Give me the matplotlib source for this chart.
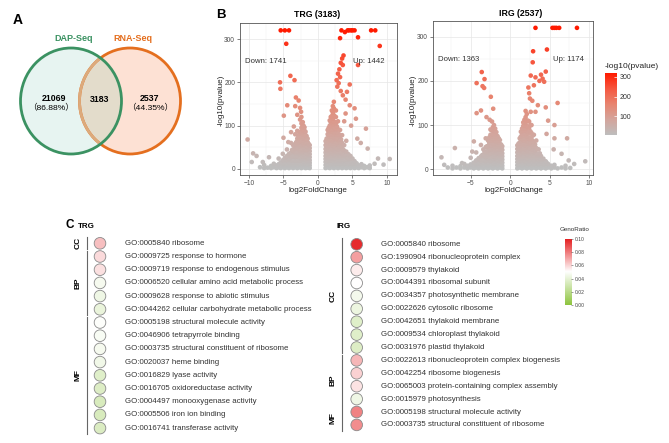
import numpy as np
import matplotlib
matplotlib.use('Agg')
import matplotlib.pyplot as plt
from matplotlib.colors import LinearSegmentedColormap
from matplotlib.patches import Ellipse
from matplotlib.ticker import MultipleLocator

plt.rcParams['font.family'] = ['Liberation Sans', 'Noto Sans CJK SC', 'DejaVu Sans']

# ---------------- data ----------------
venn_sets = ['DAP-Seq', 'RNA-Seq']
venn_only_dap = '21069'
venn_only_dap_pct = '（86.88%）'
venn_shared = '3183'
venn_only_rna = '2537'
venn_only_rna_pct = '（44.35%）'

trg_title = 'TRG (3183)'
irg_title = 'IRG (2537)'
trg_counts = ('Down: 1741', 'Up: 1442')
irg_counts = ('Down: 1363', 'Up: 1174')

# isolated points (log2FoldChange, -log10 pvalue)
trg_down_pts = [(-5.4, 320), (-4.8, 320), (-4.2, 320), (-4.6, 289), (-4.0, 215), (-3.4, 205),
                (-5.5, 200), (-5.45, 185), (-3.2, 165), (-2.8, 158), (-4.45, 147), (-3.3, 145),
                (-2.6, 141), (-2.45, 132), (-3.0, 125), (-4.95, 123), (-2.4, 120), (-2.6, 114),
                (-10.2, 68), (-5.0, 72), (-9.4, 36), (-8.9, 30), (-7.1, 27), (-8.0, 16), (-9.6, 16),
                (-3.5, 98), (-2.2, 108), (-3.9, 85), (-4.3, 62)]
trg_up_pts = [(3.4, 320), (3.9, 316), (4.3, 320), (4.5, 320), (4.8, 320), (5.0, 320), (5.3, 320),
              (7.7, 320), (8.3, 320), (3.2, 302), (5.8, 304), (8.95, 284), (3.7, 262), (3.5, 255),
              (3.3, 245), (3.6, 240), (3.1, 230), (2.9, 220), (3.2, 212), (2.7, 205), (3.0, 198),
              (2.8, 190), (3.3, 180), (5.8, 240), (4.6, 195), (4.2, 178), (4.0, 160), (3.6, 170),
              (4.6, 147), (5.3, 140), (5.5, 116), (4.0, 128), (3.8, 110), (4.8, 100), (6.95, 93),
              (7.2, 47), (8.7, 24), (10.4, 23), (6.2, 60), (5.7, 70), (9.5, 10), (8.2, 12)]
irg_down_pts = [(-3.6, 220), (-4.25, 195), (-3.25, 204), (-3.5, 188), (-3.3, 184), (-2.45, 164),
                (-4.25, 127), (-3.7, 133), (-2.15, 137), (-7.0, 48), (-8.7, 27), (-8.35, 10),
                (-6.1, 14), (-4.6, 63), (-5.0, 26), (-3.0, 118), (-2.6, 112), (-2.3, 108), (-4.8, 40)]
irg_up_pts = [(3.2, 320), (5.35, 320), (5.6, 320), (5.85, 320), (6.2, 320), (8.45, 320),
              (2.9, 267), (4.65, 271), (2.85, 242), (2.6, 212), (4.5, 221), (3.2, 208), (3.9, 214),
              (4.1, 205), (4.3, 198), (3.7, 200), (2.3, 185), (3.0, 190), (2.4, 172), (2.5, 160),
              (2.8, 155), (3.5, 145), (4.5, 140), (6.0, 150), (3.2, 130), (2.6, 130), (5.6, 100),
              (4.8, 110), (4.6, 80), (5.6, 70), (7.2, 70), (5.5, 45), (6.5, 35), (7.4, 20),
              (9.5, 18), (8.1, 12)]

# dense clouds read column by column: log2FoldChange -> -log10 pvalue values
trg_down_cloud = {
    -1.2: [2, 8, 14, 20, 27, 34, 41, 48, 55],
    -1.35: [5, 12, 19, 26, 33, 41, 49, 58],
    -1.5: [3, 10, 17, 24, 31, 38, 46, 54, 62, 70],
    -1.65: [6, 13, 20, 28, 36, 44, 52, 60, 68, 76],
    -1.8: [2, 9, 16, 23, 30, 38, 46, 54, 62, 70, 78, 86],
    -1.95: [6, 14, 22, 30, 38, 46, 54, 62, 70, 79, 88, 96],
    -2.1: [4, 11, 18, 26, 34, 42, 50, 58, 66, 74, 82, 92, 100],
    -2.25: [6, 14, 22, 30, 38, 46, 54, 62, 71, 80, 90, 99],
    -2.4: [2, 9, 16, 24, 32, 40, 48, 57, 66, 75, 84, 95, 105],
    -2.55: [6, 13, 21, 29, 38, 47, 56, 65, 75, 86],
    -2.7: [4, 11, 19, 27, 35, 44, 53, 62, 72, 82],
    -2.85: [6, 13, 21, 29, 38, 47, 56, 66, 76],
    -3.0: [2, 8, 15, 23, 31, 40, 50, 60, 70, 88],
    -3.15: [6, 13, 21, 30, 40, 50, 62],
    -3.3: [4, 11, 19, 28, 37, 47, 58, 80],
    -3.45: [6, 13, 21, 30, 40, 52],
    -3.6: [2, 8, 15, 23, 32, 42, 55],
    -3.75: [6, 13, 21, 30, 44],
    -3.9: [4, 11, 19, 28, 38, 60],
    -4.05: [6, 13, 22, 32],
    -4.2: [2, 8, 15, 24, 35],
    -4.35: [6, 13, 22],
    -4.5: [4, 11, 20, 30, 45],
    -4.65: [6, 13, 22],
    -4.8: [2, 8, 16, 26],
    -4.95: [6, 14],
    -5.1: [4, 11, 20, 35],
    -5.25: [6, 13],
    -5.4: [2, 8, 15],
    -5.55: [6],
    -5.7: [4, 11, 24],
    -5.85: [6],
    -6.0: [2, 8],
    -6.4: [4, 12],
    -6.8: [2, 7],
    -7.3: [3],
    -7.8: [2, 9],
    -8.4: [4],
}
trg_up_cloud = {
    1.1: [2, 9, 16, 23, 30, 38, 46, 55, 64],
    1.25: [5, 12, 19, 27, 35, 43, 52, 61, 70],
    1.4: [4, 11, 18, 26, 34, 42, 51, 60, 70, 80, 90],
    1.55: [6, 13, 21, 29, 37, 46, 55, 65, 75, 85, 95],
    1.7: [2, 9, 16, 24, 32, 41, 50, 59, 69, 79, 90, 100, 112],
    1.85: [6, 13, 21, 29, 38, 47, 56, 66, 76, 87, 98, 108, 120],
    2.0: [4, 11, 19, 27, 36, 45, 55, 65, 75, 86, 97, 109, 122, 135],
    2.15: [6, 14, 22, 31, 40, 49, 59, 69, 80, 91, 103, 116, 130, 145],
    2.3: [2, 9, 17, 25, 34, 43, 53, 63, 74, 85, 97, 110, 124, 140, 155],
    2.45: [6, 14, 22, 31, 40, 50, 60, 71, 82, 94, 107, 121],
    2.6: [4, 12, 20, 29, 38, 48, 58, 69, 80, 92, 105, 120, 135],
    2.75: [6, 14, 22, 31, 40, 50, 61, 72, 84, 98],
    2.9: [2, 9, 17, 26, 35, 45, 56, 67, 79, 92, 110],
    3.05: [6, 14, 22, 31, 41, 52, 64, 80],
    3.2: [4, 12, 20, 29, 39, 50, 62, 75, 90],
    3.35: [6, 14, 22, 31, 41, 53, 68],
    3.5: [2, 9, 17, 26, 36, 47, 60, 78],
    3.65: [6, 14, 23, 33, 45],
    3.8: [4, 12, 21, 31, 42, 55],
    3.95: [6, 14, 23, 34],
    4.1: [2, 9, 18, 28, 40, 65],
    4.25: [6, 15, 26],
    4.4: [4, 12, 22, 34],
    4.55: [6, 14, 24],
    4.7: [2, 9, 18, 30],
    4.85: [6, 14],
    5.0: [4, 12, 24],
    5.15: [6, 14],
    5.3: [2, 9, 18],
    5.45: [6],
    5.6: [4, 13],
    5.75: [6],
    5.9: [2, 8],
    6.1: [6],
    6.3: [4, 11],
    6.7: [2, 7],
    7.1: [4],
    7.5: [2, 8],
}
irg_down_cloud = {
    -1.0: [2, 8, 15, 22, 29, 36, 44, 52],
    -1.15: [5, 12, 19, 26, 33, 40, 48, 56],
    -1.3: [4, 11, 18, 25, 33, 41, 49, 57, 66],
    -1.45: [6, 13, 21, 29, 37, 45, 53, 61, 70],
    -1.6: [2, 9, 16, 23, 31, 39, 47, 56, 65, 75],
    -1.75: [6, 13, 21, 29, 37, 45, 54, 63, 72, 84],
    -1.9: [4, 11, 18, 26, 34, 42, 51, 60, 70, 80, 92],
    -2.05: [6, 14, 22, 30, 38, 47, 56, 65, 75, 86, 100],
    -2.2: [2, 9, 16, 24, 32, 41, 50, 59, 69, 80, 95],
    -2.35: [6, 13, 21, 29, 37, 46, 55, 65, 75, 88],
    -2.5: [4, 11, 19, 27, 36, 45, 55, 66, 78, 90],
    -2.65: [6, 13, 21, 29, 38, 48, 60, 72],
    -2.8: [2, 9, 16, 24, 33, 42, 53, 65],
    -2.95: [6, 13, 21, 30, 40, 52],
    -3.1: [4, 11, 19, 28, 38, 50, 70],
    -3.25: [6, 13, 21, 30, 40],
    -3.4: [2, 8, 15, 23, 33, 45],
    -3.55: [6, 13, 22, 32],
    -3.7: [4, 11, 19, 29, 55],
    -3.85: [6, 14, 23],
    -4.0: [2, 8, 16, 25],
    -4.15: [6, 14],
    -4.3: [4, 11, 20, 38],
    -4.45: [6, 14],
    -4.6: [2, 8, 15],
    -4.8: [6],
    -5.0: [4, 11],
    -5.2: [6],
    -5.4: [2, 8],
    -5.6: [6],
    -5.8: [4, 12],
    -6.3: [2, 7],
    -6.8: [4],
    -7.3: [2, 8],
    -7.9: [4],
}
irg_up_cloud = {
    0.9: [2, 9, 16, 23, 30, 38, 46, 54],
    1.05: [5, 12, 19, 26, 34, 42, 50, 58],
    1.2: [4, 11, 18, 26, 34, 42, 51, 60, 70],
    1.35: [6, 13, 21, 29, 37, 46, 55, 64, 74, 85],
    1.5: [2, 9, 16, 24, 32, 41, 50, 59, 69, 80, 92],
    1.65: [6, 13, 21, 29, 38, 47, 56, 66, 76, 87, 98, 106],
    1.8: [4, 11, 19, 27, 36, 45, 55, 65, 76, 88, 100, 112],
    1.95: [6, 14, 22, 31, 40, 49, 59, 69, 80, 92, 105, 118, 132],
    2.1: [2, 9, 17, 25, 34, 43, 53, 63, 74, 86, 98, 110, 125],
    2.25: [6, 14, 22, 31, 40, 50, 60, 71, 82, 95, 110],
    2.4: [4, 12, 20, 29, 38, 48, 58, 69, 81, 94, 108],
    2.55: [6, 14, 22, 31, 40, 50, 61, 72, 86, 100],
    2.7: [2, 9, 17, 26, 35, 45, 56, 68, 82, 100],
    2.85: [6, 14, 22, 31, 41, 52, 64, 76],
    3.0: [4, 12, 20, 29, 39, 50, 62, 78],
    3.15: [6, 14, 22, 32, 43, 56],
    3.3: [2, 9, 17, 26, 36, 48, 65],
    3.45: [6, 14, 23, 33, 45],
    3.6: [4, 12, 21, 31, 45],
    3.75: [6, 14, 24, 36],
    3.9: [2, 9, 18, 30],
    4.05: [6, 14, 22],
    4.2: [4, 12, 24],
    4.35: [6, 14],
    4.5: [2, 9, 18],
    4.65: [6, 14],
    4.8: [4, 12],
    5.0: [6],
    5.2: [2, 8],
    5.4: [6],
    5.6: [4, 10],
    6.0: [2],
    6.5: [4],
    7.0: [2, 8],
    7.6: [3],
}

# GO enrichment
trg_terms = ['GO:0005840 ribosome', 'GO:0009725 response to hormone',
             'GO:0009719 response to endogenous stimulus',
             'GO:0006520 cellular amino acid metabolic process',
             'GO:0009628 response to abiotic stimulus',
             'GO:0044262 cellular carbohydrate metabolic process',
             'GO:0005198 structural molecule activity', 'GO:0046906 tetrapyrrole binding',
             'GO:0003735 structural constituent of ribosome', 'GO:0020037 heme binding',
             'GO:0016829 lyase activity', 'GO:0016705 oxidoreductase activity',
             'GO:0004497 monooxygenase activity', 'GO:0005506 iron ion binding',
             'GO:0016741 transferase activity']
trg_ratio = [0.064, 0.058, 0.057, 0.046, 0.043, 0.041, 0.049, 0.047, 0.046, 0.044,
             0.036, 0.035, 0.033, 0.033, 0.034]
trg_groups = [('CC', 0, 0), ('BP', 1, 5), ('MF', 6, 14)]

irg_terms = ['GO:0005840 ribosome', 'GO:1990904 ribonucleoprotein complex',
             'GO:0009579 thylakoid', 'GO:0044391 ribosomal subunit',
             'GO:0034357 photosynthetic membrane', 'GO:0022626 cytosolic ribosome',
             'GO:0042651 thylakoid membrane', 'GO:0009534 chloroplast thylakoid',
             'GO:0031976 plastid thylakoid', 'GO:0022613 ribonucleoprotein complex biogenesis',
             'GO:0042254 ribosome biogenesis', 'GO:0065003 protein-containing complex assembly',
             'GO:0015979 photosynthesis', 'GO:0005198 structural molecule activity',
             'GO:0003735 structural constituent of ribosome']
irg_ratio = [0.096, 0.071, 0.054, 0.050, 0.045, 0.042, 0.036, 0.036, 0.035,
             0.066, 0.060, 0.056, 0.043, 0.077, 0.075]
irg_groups = [('CC', 0, 8), ('BP', 9, 12), ('MF', 13, 14)]
genoratio_ticks = [0.00, 0.02, 0.04, 0.06, 0.08, 0.10]

# ---------------- figure ----------------
W, H = 669, 443
fig = plt.figure(figsize=(W / 100, H / 100), dpi=100)


def rect(x0, y0, x1, y1):
    return [x0 / W, 1 - y1 / H, (x1 - x0) / W, (y1 - y0) / H]


ax0 = fig.add_axes([0, 0, 1, 1])
ax0.set_xlim(0, W)
ax0.set_ylim(H, 0)
ax0.axis('off')

# ---------- Panel A : Venn ----------
gc, oc = (71, 101), (130, 101)
ew, eh = 101, 106
green_edge, orange_edge = '#3b9262', '#e46f1f'
gfill = Ellipse(gc, ew, eh, fc='#e7f4f1', ec='none')
ofill = Ellipse(oc, ew, eh, fc='#fde1d4', ec='none')
ax0.add_patch(gfill)
ax0.add_patch(ofill)
inter = Ellipse(oc, ew, eh, fc='#e3dccb', ec='none')
ax0.add_patch(inter)
inter.set_clip_path(gfill)
oe = Ellipse(oc, ew, eh, fill=False, ec=orange_edge, lw=2.0)
ax0.add_patch(oe)
oe2 = Ellipse(oc, ew, eh, fill=False, ec='#dcaa7c', lw=2.0)
ax0.add_patch(oe2)
oe2.set_clip_path(gfill)
ax0.add_patch(Ellipse(gc, ew, eh, fill=False, ec=green_edge, lw=2.0))

ax0.text(18, 20, 'A', fontsize=10, fontweight='bold', ha='center', va='center')
ax0.text(74, 38, venn_sets[0], color=green_edge, fontsize=6.5, fontweight='bold', ha='center', va='center')
ax0.text(133, 38, venn_sets[1], color=orange_edge, fontsize=6.5, fontweight='bold', ha='center', va='center')
ax0.text(54, 98, venn_only_dap, fontsize=6.3, fontweight='bold', ha='center', va='center')
ax0.text(51, 108.5, venn_only_dap_pct, fontsize=6.1, ha='center', va='center')
ax0.text(100, 99, venn_shared, fontsize=6.3, fontweight='bold', ha='center', va='center')
ax0.text(150, 98, venn_only_rna, fontsize=6.3, fontweight='bold', ha='center', va='center')
ax0.text(150, 108.5, venn_only_rna_pct, fontsize=6.1, ha='center', va='center')

# ---------- Panel B : volcano ----------
vcmap = LinearSegmentedColormap.from_list(
    'greyred', ['#bebebe', '#d4a59c', '#e8846f', '#f6573f', '#ff1a00'])
VMIN, VMAX = 5, 320


def collect(pts, cloud):
    fc = [p[0] for p in pts]
    pv = [p[1] for p in pts]
    for k, vals in cloud.items():
        for v in vals:
            fc.append(k)
            pv.append(v)
    return np.array(fc, float), np.array(pv, float)


def volcano(ax, parts, xlim, ylim, xticks, down_txt, up_txt):
    fcs, pvs = [], []
    for pts, cloud in parts:
        f, p = collect(pts, cloud)
        fcs.append(f)
        pvs.append(p)
    f = np.concatenate(fcs)
    p = np.concatenate(pvs)
    o = np.argsort(p, kind='stable')
    ax.scatter(f[o], p[o], c=p[o], cmap=vcmap, vmin=VMIN, vmax=VMAX, s=11, linewidths=0, zorder=3)
    ax.set_xlim(*xlim)
    ax.set_ylim(*ylim)
    ax.set_xticks(xticks)
    ax.set_yticks([0, 100, 200, 300])
    ax.xaxis.set_minor_locator(MultipleLocator(2.5))
    ax.yaxis.set_minor_locator(MultipleLocator(50))
    ax.grid(which='major', color='#e6e6e6', lw=0.5)
    ax.grid(which='minor', color='#f2f2f2', lw=0.35)
    ax.set_axisbelow(True)
    ax.tick_params(which='major', labelsize=4.8, labelcolor='#4d4d4d', color='#4d4d4d',
                   length=2, width=0.5, pad=1.5)
    ax.tick_params(which='minor', length=0)
    for s in ax.spines.values():
        s.set_color('#555555')
        s.set_linewidth(0.6)
    ax.text(down_txt[0], down_txt[1], down_txt[2], fontsize=5.6, color='#333333',
            ha='left', va='center', zorder=4)
    ax.text(up_txt[0], up_txt[1], up_txt[2], fontsize=5.6, color='#333333',
            ha='left', va='center', zorder=4)


ax_t = fig.add_axes(rect(240, 23, 397, 175))
volcano(ax_t, [(trg_down_pts, trg_down_cloud), (trg_up_pts, trg_up_cloud)],
        (-11.3, 11.45), (-14, 337), [-10, -5, 0, 5, 10],
        (-10.6, 249, trg_counts[0]), (5.1, 249, trg_counts[1]))
ax_i = fig.add_axes(rect(433, 21, 593, 175))
volcano(ax_i, [(irg_down_pts, irg_down_cloud), (irg_up_pts, irg_up_cloud)],
        (-9.77, 10.48), (-13, 335.5), [-5, 0, 5, 10],
        (-9.2, 249, irg_counts[0]), (5.45, 249, irg_counts[1]))

ax0.text(221, 15, 'B', fontsize=9.5, fontweight='bold', ha='center', va='center')
ax0.text(317, 14, trg_title, fontsize=6.3, fontweight='bold', ha='center', va='center')
ax0.text(521, 13, irg_title, fontsize=6.3, fontweight='bold', ha='center', va='center')
for xc in (318, 514):
    ax0.text(xc, 190.5, 'log2FoldChange', fontsize=5.8, color='#222222', ha='center', va='center')
for xc in (221, 413):
    ax0.text(xc, 100, '-log10(pvalue)', fontsize=5.8, color='#222222', ha='center',
             va='center', rotation=90)

# colorbar for p values
cax = fig.add_axes(rect(605, 73, 617, 135))
grad = np.linspace(VMIN, VMAX, 256).reshape(-1, 1)
cax.imshow(grad, aspect='auto', cmap=vcmap, origin='lower', extent=[0, 1, VMIN, VMAX],
           vmin=VMIN, vmax=VMAX)
cax.set_ylim(VMIN, VMAX)
cax.set_xticks([])
cax.yaxis.tick_right()
cax.set_yticks([100, 200, 300])
cax.tick_params(axis='y', direction='in', length=2, color='white', width=0.5,
                labelsize=5, labelcolor='#333333', pad=2)
for s in cax.spines.values():
    s.set_visible(False)
ax0.text(605, 66, '-log10(pvalue)', fontsize=6, color='#222222', ha='left', va='center')

# ---------- Panel C : GO bubbles ----------
gocmap = LinearSegmentedColormap.from_list('go', ['#8dc43e', '#ffffff', '#e41a1c'])
ax0.text(70, 224.5, 'C', fontsize=8.5, fontweight='bold', ha='center', va='center')
ax0.text(86, 226, 'TRG', fontsize=5.8, fontweight='bold', ha='center', va='center')
ax0.text(344, 226.5, 'IRG', fontsize=5.8, fontweight='bold', ha='center', va='center')


def go_panel(terms, ratios, groups, cx, tx, y0, dy, bx, lx):
    ys = [y0 + i * dy for i in range(len(terms))]
    ax0.scatter([cx] * len(terms), ys, c=ratios, cmap=gocmap, vmin=0, vmax=0.1, s=70,
                edgecolors='#8a8a8a', linewidths=0.6, zorder=3)
    for y, t in zip(ys, terms):
        ax0.text(tx, y, t, fontsize=5.7, color='#333333', ha='left', va='center')
    for name, a, b in groups:
        ya, yb = ys[a] - dy * 0.45, ys[b] + dy * 0.45
        ax0.plot([bx, bx], [ya, yb], color='#666666', lw=0.8)
        ax0.text(lx, (ys[a] + ys[b]) / 2, name, fontsize=6, fontweight='bold', rotation=90,
                 ha='center', va='center')


go_panel(trg_terms, trg_ratio, trg_groups, 100, 125, 243.3, 13.2, 87, 78)
go_panel(irg_terms, irg_ratio, irg_groups, 356.7, 380.7, 244.3, 12.9, 342, 333)

gax = fig.add_axes(rect(565, 239, 571.5, 305))
g2 = np.linspace(0, 0.1, 256).reshape(-1, 1)
gax.imshow(g2, aspect='auto', cmap=gocmap, origin='lower', extent=[0, 1, 0, 0.1], vmin=0, vmax=0.1)
gax.set_ylim(0, 0.1)
gax.set_xticks([])
gax.yaxis.tick_right()
gax.set_yticks(genoratio_ticks)
gax.set_yticklabels(['%.2f' % v for v in genoratio_ticks])
gax.tick_params(axis='y', length=1.5, width=0.4, color='#555555', labelsize=3.6,
                labelcolor='#444444', pad=0.8)
for s in gax.spines.values():
    s.set_visible(False)
ax0.text(575, 229, 'GenoRatio', fontsize=4.5, color='#333333', ha='center', va='center')

fig.savefig('out.png', dpi=100)
